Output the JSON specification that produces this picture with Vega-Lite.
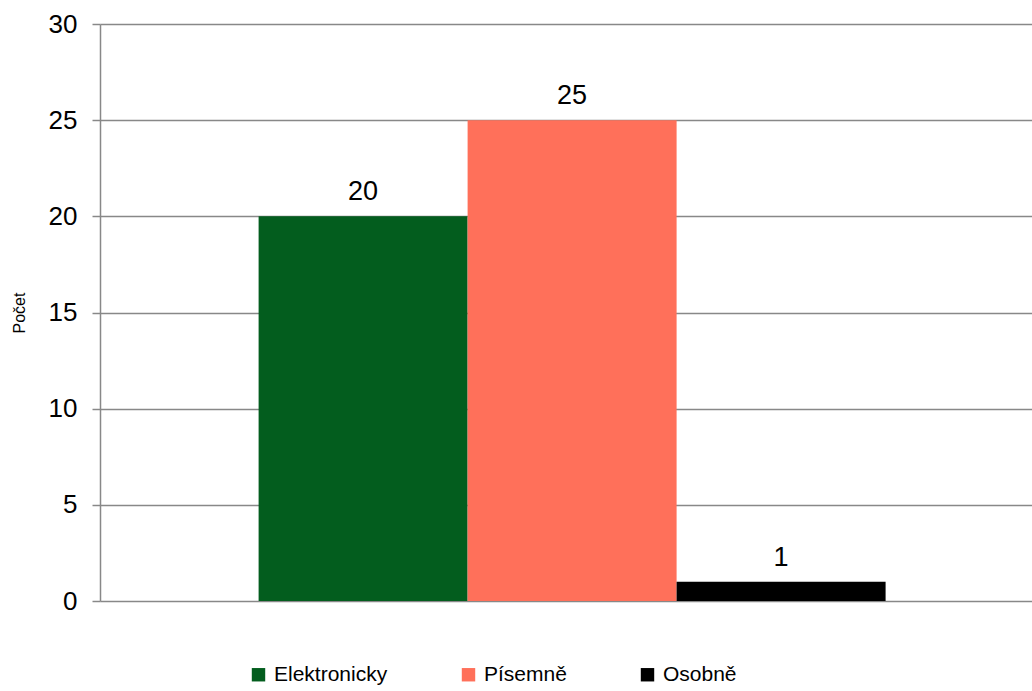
{
  "$schema": "https://vega.github.io/schema/vega-lite/v6.json",
  "width": 932,
  "height": 577,
  "autosize": "none",
  "padding": {"left": 100, "top": 24, "right": 0, "bottom": 90},
  "background": "white",
  "config": {
    "view": {"stroke": null},
    "font": "Liberation Sans",
    "text": {"font": "Liberation Sans"}
  },
  "data": {
    "values": [
      {"zpusob": "Elektronicky", "pocet": 20},
      {"zpusob": "Písemně", "pocet": 25},
      {"zpusob": "Osobně", "pocet": 1}
    ]
  },
  "encoding": {
    "x": {
      "field": "zpusob",
      "type": "nominal",
      "sort": ["Elektronicky", "Písemně", "Osobně"],
      "scale": {"paddingInner": 0, "paddingOuter": 0.7297, "align": 0.52},
      "axis": null
    },
    "y": {
      "field": "pocet",
      "type": "quantitative",
      "scale": {"domain": [0, 30], "nice": false},
      "axis": {
        "title": "Počet",
        "titleFont": "Liberation Sans",
        "titleFontSize": 16,
        "titleFontWeight": "normal",
        "titleColor": "black",
        "titlePadding": 21,
        "values": [0, 5, 10, 15, 20, 25, 30],
        "labelFont": "Liberation Sans",
        "labelFontSize": 26,
        "labelColor": "black",
        "labelPadding": 15,
        "tickSize": 8,
        "tickColor": "#888888",
        "tickWidth": 1.5,
        "domainColor": "#888888",
        "domainWidth": 1.5,
        "grid": true,
        "gridColor": "#888888",
        "gridWidth": 1.5
      }
    }
  },
  "layer": [
    {
      "mark": {"type": "bar"},
      "encoding": {
        "color": {
          "field": "zpusob",
          "type": "nominal",
          "sort": ["Elektronicky", "Písemně", "Osobně"],
          "scale": {
            "domain": ["Elektronicky", "Písemně", "Osobně"],
            "range": ["#035D1E", "#FF705A", "#000000"]
          },
          "legend": {
            "title": null,
            "orient": "none",
            "direction": "horizontal",
            "legendX": 148,
            "legendY": 640,
            "symbolType": "square",
            "symbolSize": 180,
            "symbolStrokeWidth": 0,
            "labelFont": "Liberation Sans",
            "labelFontSize": 21,
            "labelColor": "black",
            "labelOffset": 5,
            "columnPadding": 70
          }
        }
      }
    },
    {
      "mark": {"type": "text", "baseline": "alphabetic", "dy": -16, "fontSize": 27, "color": "black"},
      "encoding": {
        "text": {"field": "pocet", "type": "quantitative"}
      }
    }
  ]
}
